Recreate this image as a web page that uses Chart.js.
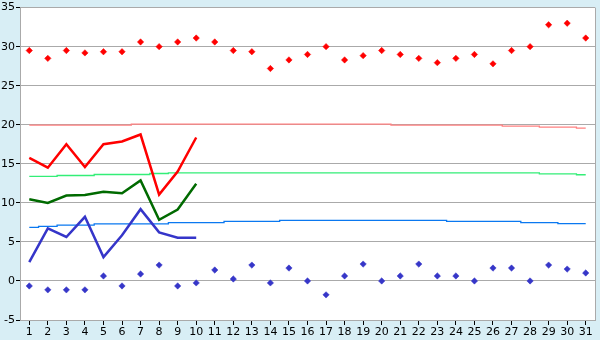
<!DOCTYPE html>
<html>
<head>
<meta charset="utf-8">
<script src="https://cdn.jsdelivr.net/npm/chart.js@4.4.0/dist/chart.umd.min.js"></script>
<style>
  body { margin: 0; background: #d8eef5; }
  #wrap { width: 600px; height: 340px; }
</style>
</head>
<body>
<div id="wrap"><canvas id="tempChart" width="600" height="340"></canvas></div>
<script>
// days of the month
const days = ['1','2','3','4','5','6','7','8','9','10','11','12','13','14','15','16',
    '17','18','19','20','21','22','23','24','25','26','27','28','29','30','31'];

// record highs / lows (diamonds)
const recordMax = [29.5, 28.5, 29.5, 29.2, 29.35, 29.35, 30.6, 30.0, 30.6, 31.1, 30.6, 29.5, 29.35, 27.2, 28.3, 29.0,
    30.0, 28.3, 28.85, 29.5, 29.0, 28.5, 27.95, 28.5, 29.0, 27.8, 29.5, 30.0, 32.8, 33.0, 31.1];
const recordMin = [-0.64, -1.14, -1.14, -1.14, 0.64, -0.64, 0.89, 2.03, -0.64, -0.25, 1.4, 0.25, 2.03, -0.25, 1.65, 0,
    -1.78, 0.64, 2.16, 0, 0.64, 2.16, 0.64, 0.64, 0, 1.65, 1.65, 0, 2.03, 1.52, 1.02];

// this month so far
const dailyMax = [15.75, 14.5, 17.5, 14.6, 17.5, 17.85, 18.75, 11.05, 14.0, 18.37];
const dailyMean = [10.46, 9.99, 10.93, 11.0, 11.43, 11.22, 12.87, 7.83, 9.15, 12.45];
const dailyMin = [2.41, 6.73, 5.63, 8.21, 3.05, 5.84, 9.19, 6.22, 5.54, 5.54];

// normals
const normalMax = [19.95, 19.95, 19.95, 19.95, 19.95, 19.95, 20.08, 20.08, 20.08, 20.08, 20.08, 20.08, 20.08, 20.08, 20.08, 20.08,
    20.08, 20.08, 20.08, 20.08, 19.95, 19.95, 19.95, 19.95, 19.95, 19.95, 19.82, 19.82, 19.69, 19.69, 19.57];
const normalMean = [13.38, 13.38, 13.5, 13.5, 13.63, 13.63, 13.63, 13.76, 13.85, 13.85, 13.85, 13.85, 13.85, 13.85, 13.85, 13.85,
    13.85, 13.85, 13.85, 13.85, 13.85, 13.85, 13.85, 13.85, 13.85, 13.85, 13.85, 13.85, 13.72, 13.72, 13.6];
const normalMin = [6.86, 6.99, 7.15, 7.15, 7.32, 7.32, 7.32, 7.32, 7.47, 7.47, 7.47, 7.62, 7.62, 7.62, 7.75, 7.75,
    7.75, 7.75, 7.75, 7.75, 7.75, 7.75, 7.75, 7.62, 7.62, 7.62, 7.62, 7.47, 7.47, 7.35, 7.35];

const yTicks = [-5, 0, 5, 10, 15, 20, 25, 30, 35];

// paint the blue frame + white plot area
const frame = {
    id: 'frame',
    beforeDraw(chart) {
        const c = chart.ctx, a = chart.chartArea;
        c.save();
        c.fillStyle = '#d8eef5';
        c.fillRect(0, 0, chart.width, chart.height);
        c.fillStyle = '#ffffff';
        c.fillRect(a.left, a.top, a.right - a.left, a.bottom - a.top);
        c.restore();
    },
    beforeDatasetsDraw(chart) {
        const c = chart.ctx, a = chart.chartArea;
        c.save();
        c.strokeStyle = '#aaaaaa';
        c.lineWidth = 1;
        c.beginPath();
        c.moveTo(Math.round(a.right) + 0.5, a.top);
        c.lineTo(Math.round(a.right) + 0.5, a.bottom);
        c.stroke();
        c.restore();
    }
};

function dots(data, color) {
    return { data: data, showLine: false, pointStyle: 'rectRot', pointRadius: 3.2,
        pointBorderWidth: 0.5, pointBackgroundColor: color, pointBorderColor: color,
        borderColor: color, backgroundColor: color };
}
function line(data, color, width, stepped) {
    return { data: data, borderColor: color, borderWidth: width, pointRadius: 0,
        tension: 0, stepped: stepped, fill: false };
}

const ctx = document.getElementById('tempChart').getContext('2d');

const tempChart = new Chart(ctx, {
    type: 'line',
    data: {
        labels: days,
        datasets: [
            dots(recordMax, '#ff0000'),
            dots(recordMin, '#3636c8'),
            line(dailyMax, '#ff0000', 2.5, false),
            line(dailyMean, '#006a00', 2.5, false),
            line(dailyMin, '#3535c9', 2.5, false),
            line(normalMax, '#ff8080', 1.3, 'middle'),
            line(normalMean, '#33ee77', 1.3, 'middle'),
            line(normalMin, '#0a78f0', 1.3, 'middle')
        ]
    },
    options: {
        responsive: false,
        animation: false,
        layout: { padding: { top: 4, right: 5, left: 0, bottom: 0 } },
        plugins: {
            legend: { display: false },
            tooltip: { enabled: false }
        },
        scales: {
            x: {
                offset: true,
                grid: { offset: false, drawOnChartArea: false, drawTicks: true, tickLength: 5, tickColor: '#000000' },
                border: { color: '#aaaaaa' },
                ticks: { color: '#000000', padding: 1, maxRotation: 0, autoSkip: false,
                    font: { family: 'DejaVu Sans', size: 11 } },
                afterFit(scale) { scale.height = 20; }
            },
            y: {
                min: -5,
                max: 35,
                afterBuildTicks(scale) { scale.ticks = yTicks.map(v => ({ value: v })); },
                grid: { color: '#aaaaaa', tickLength: 4, tickColor: '#000000' },
                border: { color: '#aaaaaa' },
                ticks: { color: '#000000', padding: 1, font: { family: 'DejaVu Sans', size: 11 } },
                afterFit(scale) { scale.width = 20; }
            }
        }
    },
    plugins: [frame]
});
</script>
</body>
</html>
